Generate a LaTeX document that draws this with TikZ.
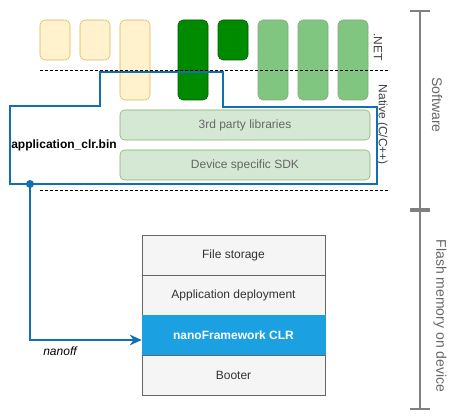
\documentclass[tikz,border=0pt]{standalone}
\usepackage{fontspec}
\setmainfont{Liberation Sans}
\usetikzlibrary{arrows.meta}
\definecolor{yelfill}{HTML}{FFF2CC}
\definecolor{yeldraw}{HTML}{D6B656}
\definecolor{dgfill}{HTML}{008A00}
\definecolor{dgdraw}{HTML}{005700}
\definecolor{lgfill}{HTML}{80C580}
\definecolor{lgdraw}{HTML}{80AB80}
\definecolor{libfill}{HTML}{D5E8D4}
\definecolor{libdraw}{HTML}{82B366}
\definecolor{binblue}{HTML}{1070B0}
\definecolor{clrblue}{HTML}{1BA1E2}
\definecolor{cellfill}{HTML}{F5F5F5}

\begin{document}
\begin{tikzpicture}[x=0.75pt,y=-0.75pt,
	font=\fontsize{9}{11}\selectfont,
	box/.style={rounded corners=3.75pt, inner sep=0pt, minimum width=22.5pt},
	short/.style={box, minimum height=30pt},
	tall/.style={box, minimum height=60pt},
	yel/.style={fill=yelfill, draw=yeldraw},
	dg/.style={fill=dgfill, draw=dgdraw},
	lg/.style={fill=lgfill, draw=lgdraw},
	lib/.style={rounded corners=3.4pt, fill=libfill, draw=libdraw, text=black!60,
		minimum width=187.5pt, minimum height=22.5pt, inner sep=0pt},
	cell/.style={draw=black!60, fill=cellfill, text=black!80,
		minimum width=137.25pt, minimum height=30pt, inner sep=0pt},
	side/.style={rotate=-90, text=black!60},
	level/.style={dash pattern=on 2.25pt off 1.5pt, thin},
	scale bar/.style={draw=black!50, line width=1.5pt, {Bar[width=15pt,line width=1.5pt]}-{Bar[width=15pt,line width=1.5pt]}}]
	\useasboundingbox (0,0) rectangle (460,420);
	\node[short, yel] (Y1) at (55,40) {};
	\node[short, yel] (Y2) at (95,40) {};
	\node[tall, yel] (Y3) at (135,60) {};
	\node[tall, dg] (G1) at (193,60) {};
	\node[short, dg] (G2) at (233,40) {};
	\node[tall, lg] (L1) at (273,60) {};
	\node[tall, lg] (L2) at (313,60) {};
	\node[tall, lg] (L3) at (353,60) {};
	\node[lib] (third) at (245,125) {3rd party libraries};
	\node[lib] (sdk) at (245,165) {Device specific SDK};
	\draw[level] (40,70) -- (390,70);
	\draw[level] (40,190) -- (390,190);
	\node[side, text=black!75] (net) at (378,47) {.NET};
	\node[side, text=black!75] (native) at (382,125) {Native (C/C++)};
	\draw[binblue, line width=1.5pt] (10,184) -- (10,106) -- (100,106) -- (100,72) -- (223,72)
		-- (223,107) -- (377,107) -- (377,184) -- cycle;
	\node[font=\fontsize{9}{11}\selectfont\bfseries] (bin) at (64,145) {application\_clr.bin};
	\coordinate (dot) at (30,184);
	\fill[binblue] (dot) circle (3pt);
	\node[cell] (files) at (233.5,255) {File storage};
	\node[cell] (deploy) at (233.5,295) {Application deployment};
	\node[cell, fill=clrblue, draw=clrblue, text=white, font=\fontsize{9}{11}\selectfont\bfseries] (clr) at (233.5,335) {nanoFramework CLR};
	\node[cell] (booter) at (233.5,375) {Booter};
	\draw[binblue, line width=1.5pt, -{Stealth[length=9pt,width=8pt]}] (dot) |- ([yshift=-3.75pt]clr.west);
	\node[font=\fontsize{9}{11}\selectfont\itshape] (nanoff) at (60,351) {nanoff};
	\coordinate (swtop) at (420,10);
	\coordinate (swbot) at (420,210);
	\coordinate (flbot) at (420,410);
	\draw[scale bar] (swtop) -- (swbot);
	\draw[scale bar] (swbot) -- (flbot);
	\node[side, font=\fontsize{10.5}{12}\selectfont] (software) at (437,105) {Software};
	\node[side, font=\fontsize{10.5}{12}\selectfont] (flash) at (440,316) {Flash memory on device};
\end{tikzpicture}
\end{document}
